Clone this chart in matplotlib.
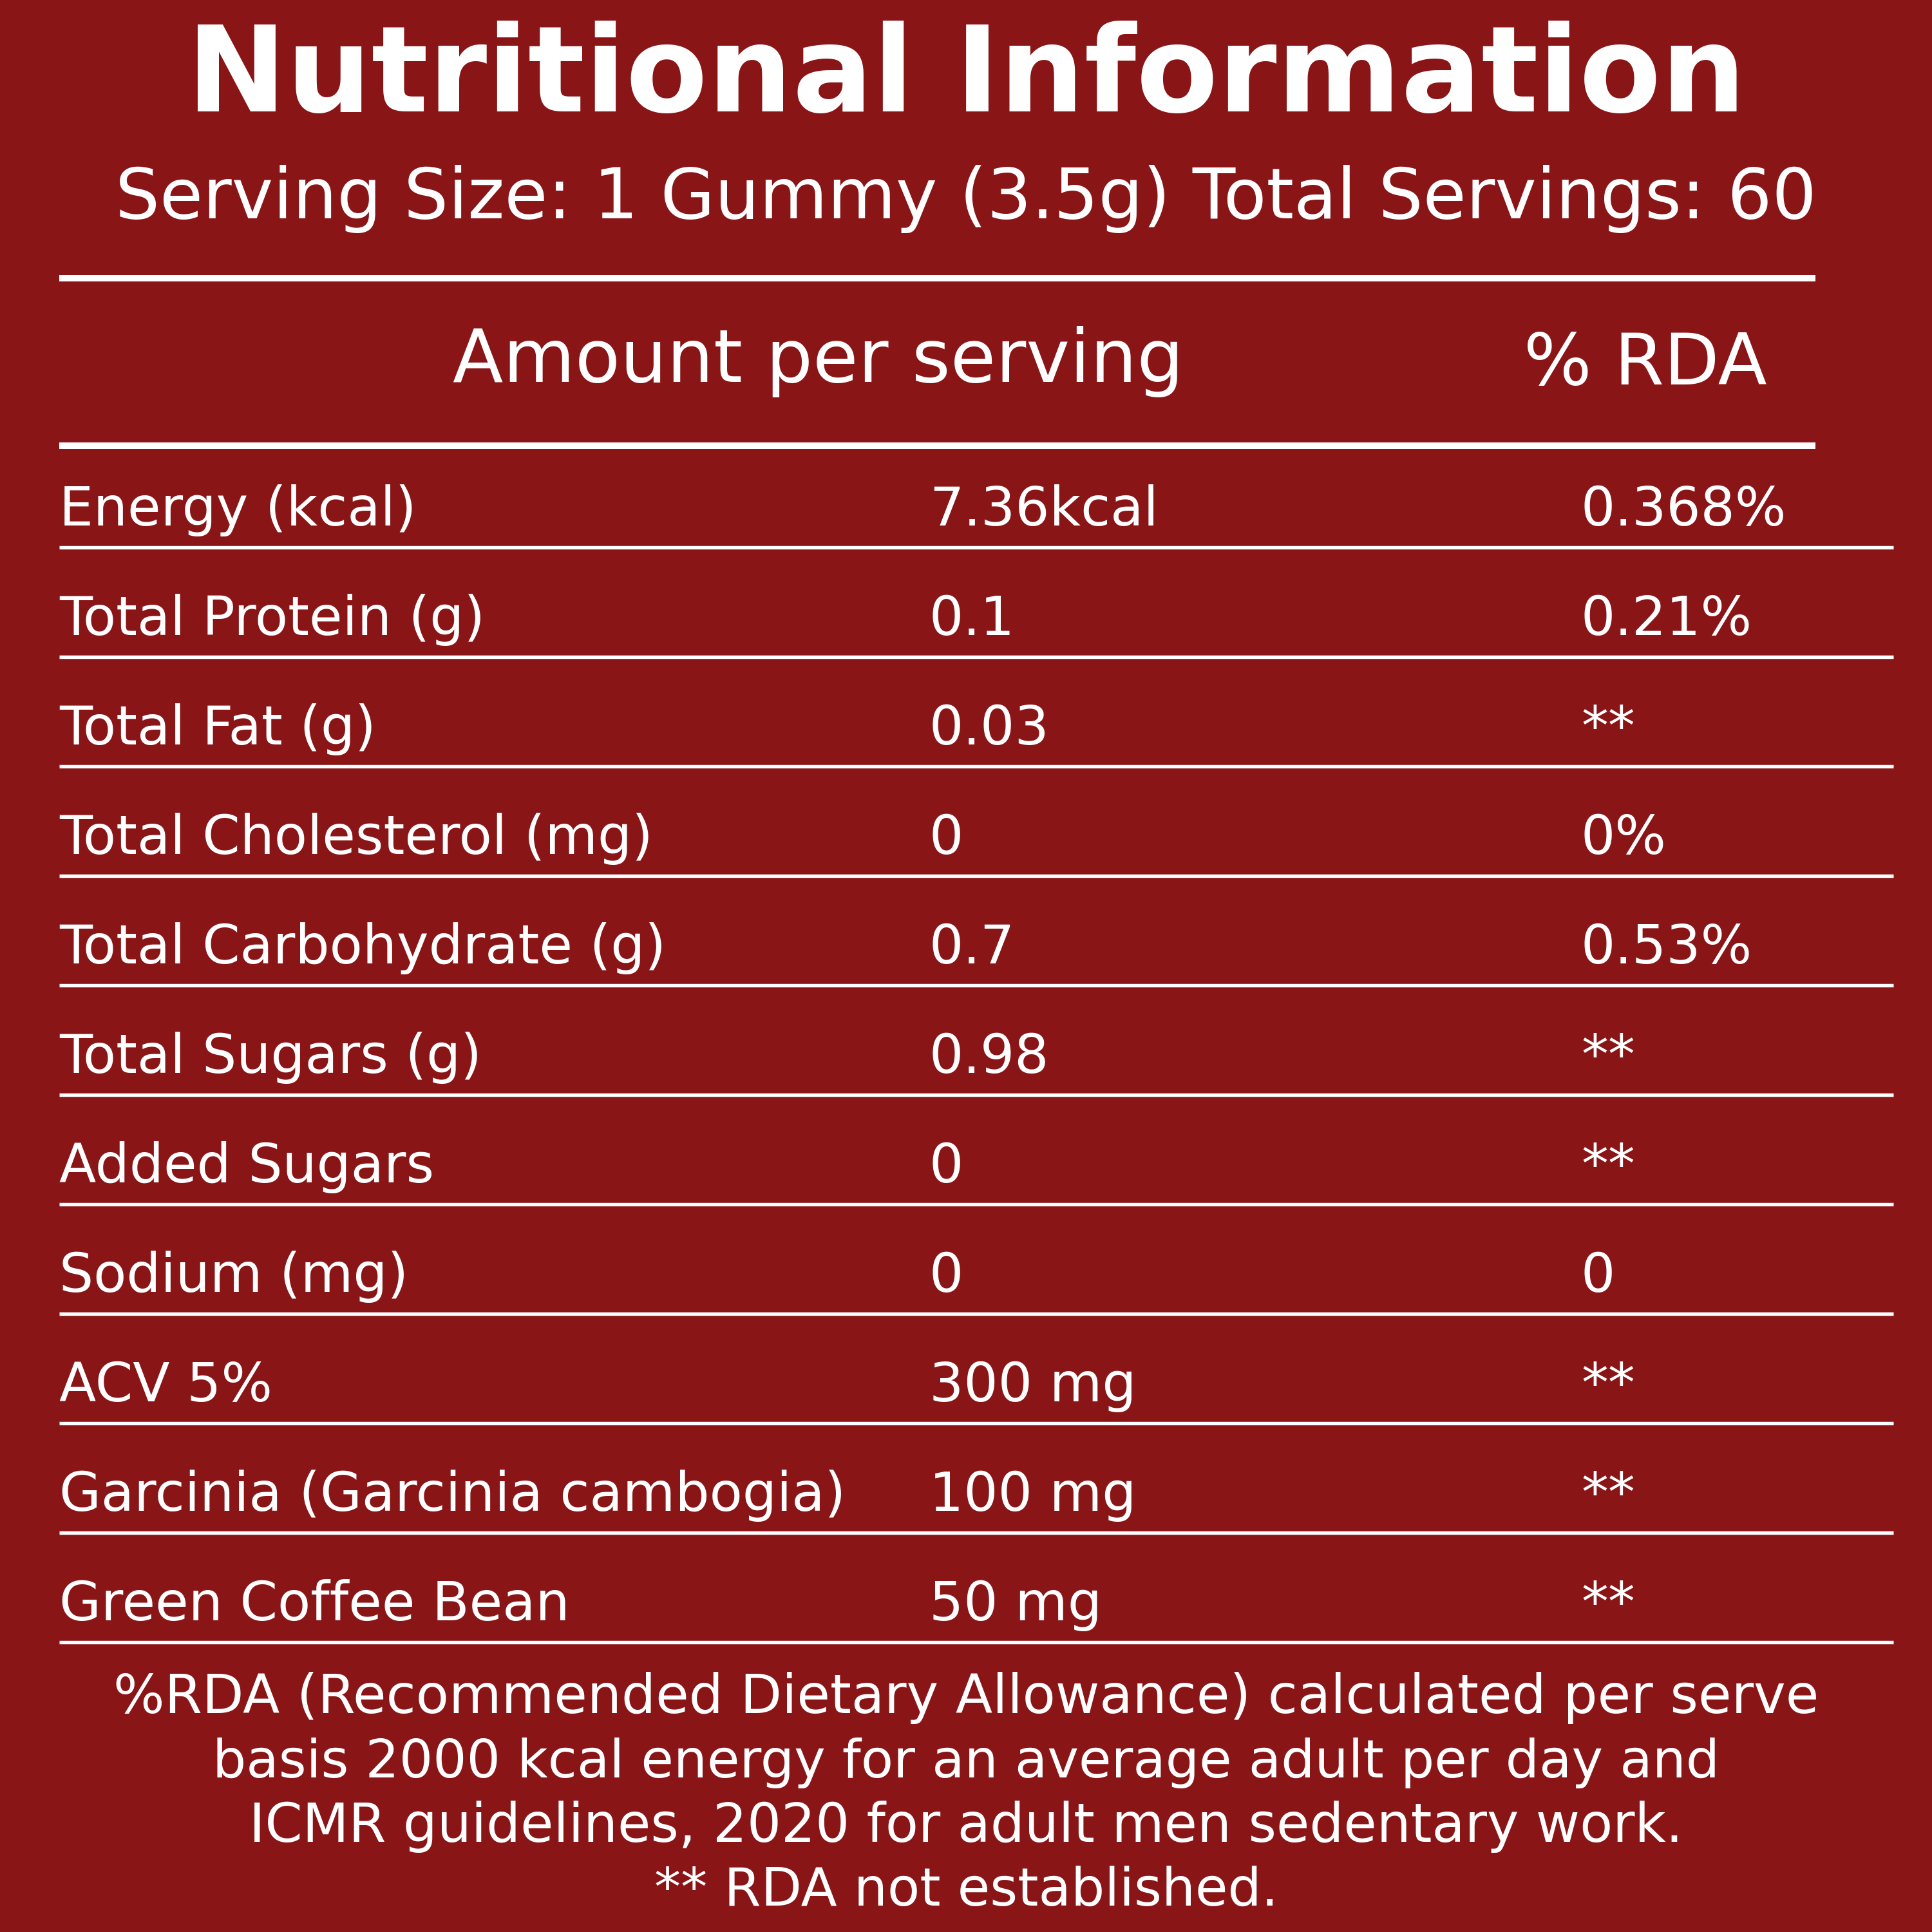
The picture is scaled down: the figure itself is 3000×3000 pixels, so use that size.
import numpy as np
import matplotlib
matplotlib.use("Agg")
import matplotlib.pyplot as plt

# ---- content ----
title = "Nutritional Information"
subtitle = "Serving Size: 1 Gummy (3.5g) Total Servings: 60"
col_headers = ["Amount per serving", "% RDA"]

nutrients = ["Energy (kcal)", "Total Protein (g)", "Total Fat (g)", "Total Cholesterol (mg)",
             "Total Carbohydrate (g)", "Total Sugars (g)", "Added Sugars", "Sodium (mg)",
             "ACV 5%", "Garcinia (Garcinia cambogia)", "Green Coffee Bean"]
amounts = ["7.36kcal", "0.1", "0.03", "0", "0.7", "0.98", "0", "0", "300 mg", "100 mg", "50 mg"]
rda = ["0.368%", "0.21%", "**", "0%", "0.53%", "**", "**", "0", "**", "**", "**"]

footnote = ["%RDA (Recommended Dietary Allowance) calculated per serve",
            "basis 2000 kcal energy for an average adult per day and",
            "ICMR guidelines, 2020 for adult men sedentary work.",
            "** RDA not established."]

BG = "#8a1517"
FG = "white"
plt.rcParams["font.family"] = ["DejaVu Sans"]

fig = plt.figure(figsize=(10, 10), dpi=300, facecolor=BG)
ax = fig.add_axes([0, 0, 1, 1])
ax.set_facecolor(BG)
ax.set_xlim(0, 3000)
ax.set_ylim(3000, 0)
ax.axis("off")
renderer = fig.canvas.get_renderer()


def fit_text(x, y, s, width, size, **kw):
    # draw text then shrink/grow it so it spans roughly `width` pixels
    t = ax.text(x, y, s, color=FG, fontsize=size, va="baseline", **kw)
    w = t.get_window_extent(renderer).width
    t.set_fontsize(size * width / w)
    return t


fit_text(1500, 173, title, 2422, 44, ha="center", fontweight="bold")
fit_text(1500, 339, subtitle, 2646, 26, ha="center")

ax.plot([92, 2819], [432, 432], color=FG, lw=2.4, solid_capstyle="butt")
fit_text(1271, 593, col_headers[0], 1135, 27, ha="center")
fit_text(2555, 597, col_headers[1], 378, 27, ha="center")
ax.plot([92, 2819], [692, 692], color=FG, lw=2.4, solid_capstyle="butt")

# table rows
row_lines = 850 + 170 * np.arange(len(nutrients))
for i, (name, amt, pct) in enumerate(zip(nutrients, amounts, rda)):
    yb = row_lines[i] - 34
    ax.text(92, yb, name, color=FG, fontsize=20.1, va="baseline", ha="left")
    ax.text(1443, yb, amt, color=FG, fontsize=20.1, va="baseline", ha="left")
    ax.text(2455, yb, pct, color=FG, fontsize=20.1, va="baseline", ha="left")
    ax.plot([92, 2940], [row_lines[i], row_lines[i]], color=FG, lw=1.3, solid_capstyle="butt")

# footnote
foot_y = [2660, 2760, 2860, 2959]
foot_w = [2652, 2344, 2229, 970]
for s, y, w in zip(footnote, foot_y, foot_w):
    fit_text(1500, y, s, w, 20, ha="center")

fig.savefig("out.png", dpi=300, facecolor=BG)
